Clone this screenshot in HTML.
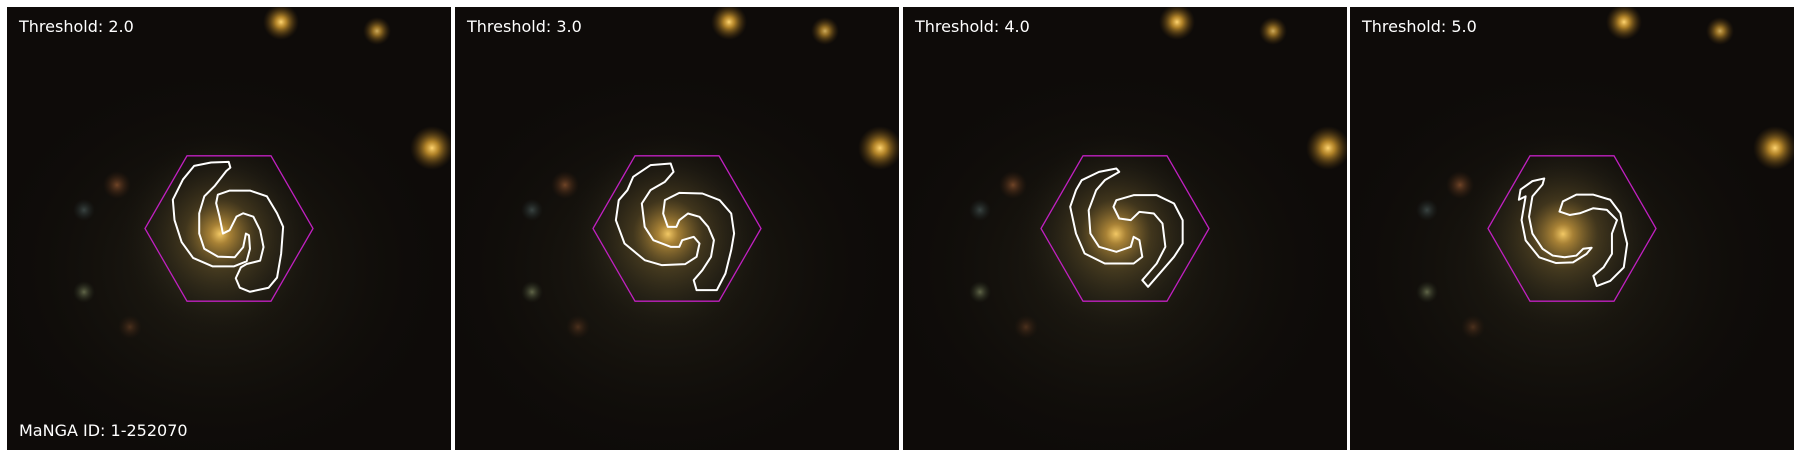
<!DOCTYPE html>
<html><head><meta charset="utf-8"><style>
html,body{margin:0;padding:0;background:#fff;width:1800px;height:457px;overflow:hidden}
svg{display:block}
text{font-family:"DejaVu Sans","Liberation Sans",sans-serif;fill:#fff}
</style></head><body>
<svg id="fig" width="1800" height="457" viewBox="0 0 1800 457" xmlns="http://www.w3.org/2000/svg">
<defs>
<radialGradient id="gal" cx="50%" cy="50%" r="50%">
<stop offset="0" stop-color="#f2c865" stop-opacity="1"/>
<stop offset="0.1" stop-color="#c99a3e" stop-opacity="0.8"/>
<stop offset="0.35" stop-color="#6e5a2c" stop-opacity="0.45"/>
<stop offset="0.7" stop-color="#3a3422" stop-opacity="0.2"/>
<stop offset="1" stop-color="#1a1810" stop-opacity="0"/>
</radialGradient>
<radialGradient id="halo" cx="50%" cy="50%" r="50%">
<stop offset="0" stop-color="#2a2618" stop-opacity="0.8"/>
<stop offset="1" stop-color="#12100c" stop-opacity="0"/>
</radialGradient>
<radialGradient id="star" cx="50%" cy="50%" r="50%">
<stop offset="0" stop-color="#ffd470"/>
<stop offset="0.3" stop-color="#d9a030" stop-opacity="0.8"/>
<stop offset="1" stop-color="#604010" stop-opacity="0"/>
</radialGradient>
<radialGradient id="redstar" cx="50%" cy="50%" r="50%">
<stop offset="0" stop-color="#7a4a2a" stop-opacity="0.9"/>
<stop offset="1" stop-color="#3a2010" stop-opacity="0"/>
</radialGradient>
<radialGradient id="greenstar" cx="50%" cy="50%" r="50%">
<stop offset="0" stop-color="#6a7050" stop-opacity="0.9"/>
<stop offset="1" stop-color="#2a3020" stop-opacity="0"/>
</radialGradient>
<radialGradient id="bluestar" cx="50%" cy="50%" r="50%">
<stop offset="0" stop-color="#3e4a48" stop-opacity="0.9"/>
<stop offset="1" stop-color="#202828" stop-opacity="0"/>
</radialGradient>
</defs>
</svg>
<script>
const thresholds = ["2.0", "3.0", "4.0", "5.0"];
const panelX = [7, 455, 903, 1350];
const NS = "http://www.w3.org/2000/svg";
const fig = document.getElementById("fig");
const PW = 444, PH = 443, PY = 7;
const contours = [
 {t:"scale(0.3384) translate(-598,-685)", paths:[
  "M597,488 L545,490 495,500 462,540 432,600 437,660 458,725 492,772 550,797 612,797 650,782 660,745 657,705 648,700 640,740 615,770 565,768 525,745 510,700 510,640 525,590 555,560 590,515 602,505 Z",
  "M565,585 L600,573 660,573 710,590 740,640 758,680 752,760 740,830 715,860 660,872 630,860 618,832 633,800 650,790 690,780 700,740 690,690 670,650 640,640 620,650 600,690 580,700 570,650 560,610 Z"]},
 {t:"scale(0.5767,0.3333) translate(-396,-385)", paths:[
  "M385,190 L350,195 320,230 310,270 295,300 290,360 305,430 340,480 370,495 410,492 430,470 435,430 425,410 405,420 400,440 385,440 355,420 340,380 335,310 350,270 375,245 390,215 Z",
  "M375,300 L400,278 440,280 470,300 490,340 495,400 490,450 480,520 465,570 430,570 425,540 440,510 455,470 460,420 450,380 435,350 415,340 400,360 395,380 380,380 372,340 Z"]},
 {t:"scale(0.5767,0.3333) translate(-1175,-385)", paths:[
  "M1160,205 L1130,215 1100,240 1090,270 1080,320 1090,400 1105,460 1140,490 1190,490 1205,470 1200,420 1190,410 1185,440 1160,455 1130,440 1115,400 1112,330 1125,270 1140,240 1165,215 Z",
  "M1160,300 L1190,285 1230,285 1260,310 1275,360 1275,430 1260,470 1240,510 1215,560 1205,540 1230,490 1245,440 1240,370 1225,340 1200,335 1185,360 1165,355 1155,320 Z"]},
 {t:"scale(0.3384) translate(-817,-685)", paths:[
  "M735,537 L700,545 665,570 660,600 680,590 668,660 680,720 720,770 770,787 820,785 860,760 875,742 850,745 830,765 795,770 760,765 730,745 700,700 690,650 700,590 730,555 Z",
  "M790,605 L830,585 880,585 930,600 960,640 970,690 980,730 970,800 930,840 890,855 880,825 910,800 935,760 935,700 950,660 920,630 880,625 840,640 810,645 780,635 Z"]}
];
function mk(tag, attrs, parent){const e=document.createElementNS(NS,tag);for(const k in attrs)e.setAttribute(k,attrs[k]);parent.appendChild(e);return e;}
thresholds.forEach((th,i)=>{
  const x0 = panelX[i];
  const g = mk("g",{transform:`translate(${x0},${PY})`},fig);
  
  
  const cp = "cp"+i;
  const clip = mk("clipPath",{id:cp},g); mk("rect",{x:0,y:0,width:PW,height:PH},clip);
  const inner = mk("g",{"clip-path":`url(#${cp})`},g);
  const bg = mk("rect",{x:0,y:0,width:PW,height:PH,fill:"#0e0b09"},inner);
  
  
  mk("ellipse",{cx:210,cy:260,rx:230,ry:200,fill:"url(#halo)"},inner);
  mk("circle",{cx:213,cy:227,r:100,fill:"url(#gal)"},inner);
  mk("circle",{cx:274,cy:15,r:18,fill:"url(#star)"},inner);
  mk("circle",{cx:370,cy:24,r:14,fill:"url(#star)",opacity:0.8},inner);
  mk("circle",{cx:425,cy:141,r:22,fill:"url(#star)"},inner);
  mk("circle",{cx:110,cy:178,r:14,fill:"url(#redstar)"},inner);
  mk("circle",{cx:77,cy:203,r:11,fill:"url(#bluestar)"},inner);
  mk("circle",{cx:77,cy:285,r:11,fill:"url(#greenstar)"},inner);
  mk("circle",{cx:123,cy:320,r:12,fill:"url(#redstar)",opacity:0.6},inner);
  const cx=PW/2, cy=PH/2, R=84;
  let pts=[];for(let k=0;k<6;k++){const a=Math.PI/3*k;pts.push((cx+R*Math.cos(a)).toFixed(1)+","+(cy+R*Math.sin(a)).toFixed(1));}
  const hex = mk("polygon",{points:pts.join(" "),fill:"none",stroke:"#c020c0","stroke-width":1.3},inner);
  
  
  const cg = mk("g",{transform:`translate(${cx},${cy}) ${contours[i].t}`},inner);
  
  
  contours[i].paths.forEach(d=>{
    const p = mk("path",{d:d,fill:"none",stroke:"#fff","stroke-width":2,"vector-effect":"non-scaling-stroke","stroke-linejoin":"round"},cg);
    
    
  });
  const t = mk("text",{x:12,y:25,"font-size":16},g);
  t.textContent = "Threshold: " + th;
  
  
  if(i===0){
    const m = mk("text",{x:12,y:429,"font-size":16},g);
    m.textContent = "MaNGA ID: 1-252070";
    
    
  }
});
</script>
</body></html>
